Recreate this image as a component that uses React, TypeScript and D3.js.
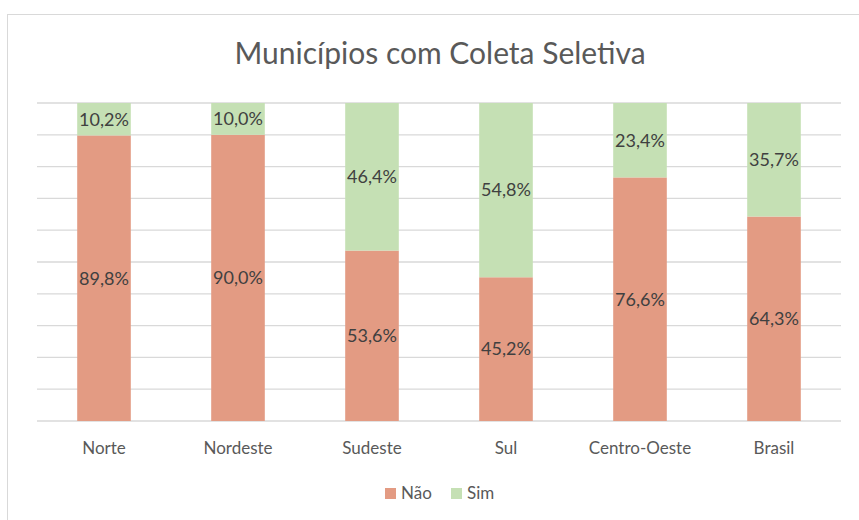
import React, { useEffect, useRef } from 'react';
import * as d3 from 'd3';

const categories = ['Norte', 'Nordeste', 'Sudeste', 'Sul', 'Centro-Oeste', 'Brasil'];
const naoValues = [89.8, 90.0, 53.6, 45.2, 76.6, 64.3];
const simValues = [10.2, 10.0, 46.4, 54.8, 23.4, 35.7];
const seriesNames = ['Não', 'Sim'];
const seriesColors = ['#e39b83', '#c5e0b4'];
const gridTicks = d3.range(0, 101, 10);

const App = () => {
  const svgRef = useRef<SVGSVGElement>(null);

  useEffect(() => {
    if (!svgRef.current) return;
    const svg = d3.select(svgRef.current);
    svg.selectAll('*').remove();

    const font = 'Lato, "Open Sans", sans-serif';
    const left = 37, right = 841, top = 103, bottom = 421;

    // chart border
    svg.append('rect')
      .attr('x', 7.5).attr('y', 14.5)
      .attr('width', 880).attr('height', 540)
      .attr('fill', '#fff')
      .attr('stroke', '#d9d9d9');

    svg.append('text')
      .attr('x', 440).attr('y', 64)
      .attr('text-anchor', 'middle')
      .attr('font-family', font)
      .attr('font-size', 30)
      .attr('fill', '#595959')
      .text('Municípios com Coleta Seletiva');

    const x = d3.scaleBand().domain(categories).range([left, right]).paddingInner(0.6).paddingOuter(0.3);
    const y = d3.scaleLinear().domain([0, 100]).range([bottom, top]);

    // gridlines
    svg.append('g')
      .selectAll('line')
      .data(gridTicks)
      .enter()
      .append('line')
      .attr('x1', left).attr('x2', right)
      .attr('y1', d => y(d)).attr('y2', d => y(d))
      .attr('stroke', '#d9d9d9')
      .attr('stroke-width', 1.3);

    const rows = categories.map((c, i) => ({ cat: c, nao: naoValues[i], sim: simValues[i] }));
    const stack = d3.stack<any>().keys(['nao', 'sim'])(rows);

    stack.forEach((layer, si) => {
      const g = svg.append('g');
      g.selectAll('rect')
        .data(layer)
        .enter()
        .append('rect')
        .attr('x', d => x(d.data.cat)!)
        .attr('width', x.bandwidth())
        .attr('y', d => y(d[1]))
        .attr('height', d => y(d[0]) - y(d[1]))
        .attr('fill', seriesColors[si]);
      g.selectAll('text')
        .data(layer)
        .enter()
        .append('text')
        .attr('x', d => x(d.data.cat)! + x.bandwidth() / 2)
        .attr('y', d => (y(d[0]) + y(d[1])) / 2)
        .attr('dy', '0.35em')
        .attr('text-anchor', 'middle')
        .attr('font-family', font)
        .attr('font-size', 18)
        .attr('fill', '#404040')
        .text(d => (d[1] - d[0]).toFixed(1).replace('.', ',') + '%');
    });

    svg.append('g')
      .selectAll('text')
      .data(categories)
      .enter()
      .append('text')
      .attr('x', d => x(d)! + x.bandwidth() / 2)
      .attr('y', 454)
      .attr('text-anchor', 'middle')
      .attr('font-family', font)
      .attr('font-size', 17)
      .attr('fill', '#595959')
      .text(d => d);

    // legend
    const legendX = [385, 451];
    seriesNames.forEach((name, i) => {
      svg.append('rect')
        .attr('x', legendX[i]).attr('y', 488)
        .attr('width', 11).attr('height', 11)
        .attr('fill', seriesColors[i]);
      svg.append('text')
        .attr('x', legendX[i] + 16).attr('y', 499)
        .attr('font-family', font)
        .attr('font-size', 17)
        .attr('fill', '#595959')
        .text(name);
    });
  }, []);

  return (
    <svg ref={svgRef} width={859} height={520} style={{ position: 'absolute', left: 0, top: 0 }} />
  );
};

export default App;
